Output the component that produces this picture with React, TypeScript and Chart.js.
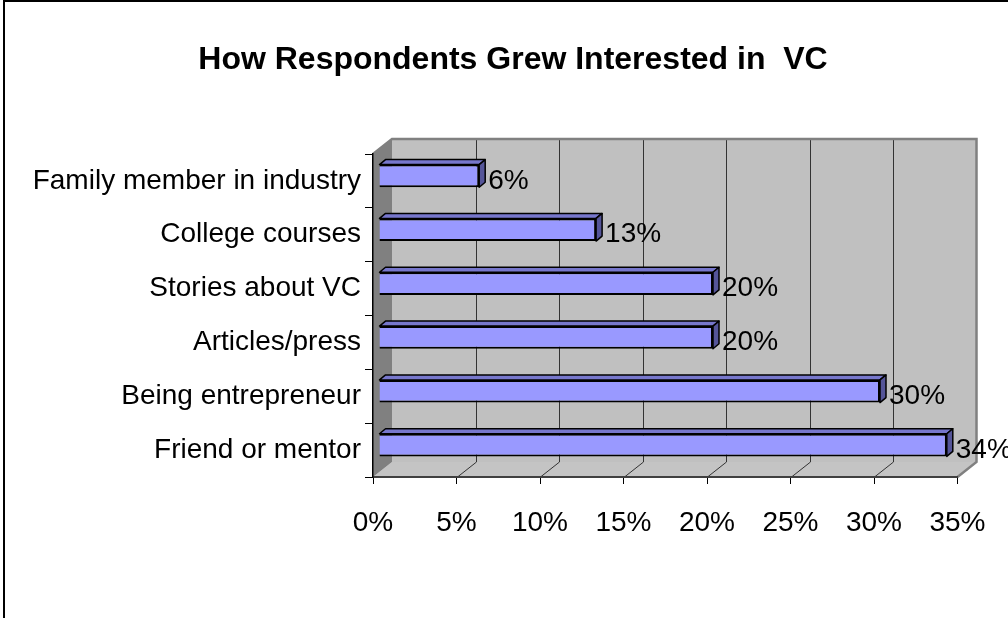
import React, { useEffect, useRef } from "react";
import { Chart, registerables } from "chart.js";

Chart.register(...registerables);

const categories = [
  "Family member in industry",
  "College courses",
  "Stories about VC",
  "Articles/press",
  "Being entrepreneur",
  "Friend or mentor",
];
const values = [6, 13, 20, 20, 30, 34];
const tickValues = [0, 5, 10, 15, 20, 25, 30, 35];
const titleText = "How Respondents Grew Interested in  VC";

const FONT = "'Liberation Sans', Arial, sans-serif";
const W = 1008;
const H = 618;
const DX = 19;
const DY = -15;
const BDX = 6;
const BDY = -5;

function poly(ctx: CanvasRenderingContext2D, pts: number[][]) {
  ctx.beginPath();
  ctx.moveTo(pts[0][0], pts[0][1]);
  for (let i = 1; i < pts.length; i++) ctx.lineTo(pts[i][0], pts[i][1]);
  ctx.closePath();
}

const wallsPlugin = {
  id: "walls3d",
  beforeDraw(chart: any) {
    const ctx: CanvasRenderingContext2D = chart.ctx;
    const { left: L, right: R, top: T, bottom: B } = chart.chartArea;
    const xs = chart.scales.x;
    ctx.save();
    // outer frame
    ctx.strokeStyle = "#000";
    ctx.lineWidth = 2;
    ctx.beginPath();
    ctx.moveTo(4, H);
    ctx.lineTo(4, 1);
    ctx.lineTo(W, 1);
    ctx.stroke();

    // title
    ctx.fillStyle = "#000";
    ctx.font = `bold 32px ${FONT}`;
    ctx.textAlign = "center";
    ctx.textBaseline = "alphabetic";
    ctx.fillText(titleText, 513, 69);

    // back wall
    ctx.fillStyle = "#C0C0C0";
    ctx.fillRect(L + DX, T + DY, R - L, B - T);
    // floor
    poly(ctx, [[L, B], [L + DX, B + DY], [R + DX, B + DY], [R, B]]);
    ctx.fillStyle = "#C4C4C4";
    ctx.fill();
    // left wall
    poly(ctx, [[L, T], [L + DX, T + DY], [L + DX, B + DY], [L, B]]);
    ctx.fillStyle = "#808080";
    ctx.fill();

    // grid lines
    ctx.strokeStyle = "#333";
    ctx.lineWidth = 1;
    tickValues.forEach((v, i) => {
      if (i === 0 || i === tickValues.length - 1) return;
      const x = Math.round(xs.getPixelForValue(v)) + 0.5;
      ctx.beginPath();
      ctx.moveTo(x + DX, T + DY);
      ctx.lineTo(x + DX, B + DY);
      ctx.moveTo(x, B);
      ctx.lineTo(x + DX, B + DY);
      ctx.stroke();
    });

    // wall borders
    ctx.strokeStyle = "#808080";
    ctx.lineWidth = 2.5;
    ctx.beginPath();
    ctx.moveTo(L, T);
    ctx.lineTo(L + DX, T + DY);
    ctx.lineTo(R + DX, T + DY);
    ctx.lineTo(R + DX, B + DY);
    ctx.lineTo(R, B);
    ctx.stroke();
    ctx.restore();
  },
  beforeDatasetsDraw(chart: any) {
    chart.ctx.save();
    chart.ctx.translate(BDX, BDY);
  },
  afterDatasetsDraw(chart: any) {
    const ctx: CanvasRenderingContext2D = chart.ctx;
    ctx.restore();
    const meta = chart.getDatasetMeta(0);
    ctx.save();
    meta.data.forEach((bar: any, i: number) => {
      const { x, y, base, height } = bar.getProps(["x", "y", "base", "height"], true);
      const left = base + BDX;
      const right = x + BDX;
      const top = y - height / 2 + BDY;
      const bottom = y + height / 2 + BDY;
      ctx.lineWidth = 1.5;
      ctx.strokeStyle = "#000";
      ctx.lineJoin = "round";
      // top face
      poly(ctx, [[left, top], [left + BDX, top + BDY], [right + BDX, top + BDY], [right, top]]);
      ctx.fillStyle = "#7777CC";
      ctx.fill();
      ctx.stroke();
      // end face
      poly(ctx, [[right, top], [right + BDX, top + BDY], [right + BDX, bottom + BDY], [right, bottom]]);
      ctx.fillStyle = "#555599";
      ctx.fill();
      ctx.stroke();
      // label
      ctx.fillStyle = "#000";
      ctx.font = `28px ${FONT}`;
      ctx.textAlign = "left";
      ctx.textBaseline = "middle";
      ctx.fillText(values[i] + "%", right + BDX + 3, y);
    });
    ctx.restore();
  },
};

export default function App() {
  const ref = useRef<HTMLCanvasElement | null>(null);
  useEffect(() => {
    if (!ref.current) return;
    const chart = new Chart(ref.current, {
      type: "bar",
      data: {
        labels: categories,
        datasets: [
          {
            data: values,
            backgroundColor: "#9999FF",
            borderColor: "#000",
            borderWidth: 2,
            barPercentage: 0.42,
            categoryPercentage: 1,
            clip: false as any,
          },
        ],
      },
      options: {
        indexAxis: "y",
        responsive: false,
        animation: false,
        events: [],
        layout: { padding: { top: 154, right: W - 957.5, left: 0, bottom: 0 } },
        plugins: {
          legend: { display: false },
          tooltip: { enabled: false },
          title: { display: false },
        },
        scales: {
          x: {
            type: "linear",
            min: 0,
            max: 35,
            position: "bottom",
            afterFit(s: any) {
              s.height = H - 477;
            },
            ticks: {
              stepSize: 5,
              callback: (v: any) => v + "%",
              font: { family: FONT, size: 28 },
              color: "#000",
              padding: 22,
              maxRotation: 0,
              autoSkip: false,
            },
            grid: { drawOnChartArea: false, drawTicks: true, tickLength: 7, color: "#000", lineWidth: 1 },
            border: { display: true, color: "#404040", width: 2 },
          },
          y: {
            type: "category",
            afterFit(s: any) {
              s.width = 373;
            },
            ticks: {
              font: { family: FONT, size: 28 },
              color: "#000",
              padding: 4,
              autoSkip: false,
            },
            grid: { offset: true, drawOnChartArea: false, drawTicks: true, tickLength: 8, color: "#000", lineWidth: 1 },
            border: { display: true, color: "#000", width: 1.5 },
          },
        },
      },
      plugins: [wallsPlugin],
    });
    return () => chart.destroy();
  }, []);
  return (
    <div style={{ position: "fixed", left: 0, top: 0, width: W, height: H, background: "#fff" }}>
      <canvas ref={ref} width={W} height={H} style={{ display: "block" }} />
    </div>
  );
}
